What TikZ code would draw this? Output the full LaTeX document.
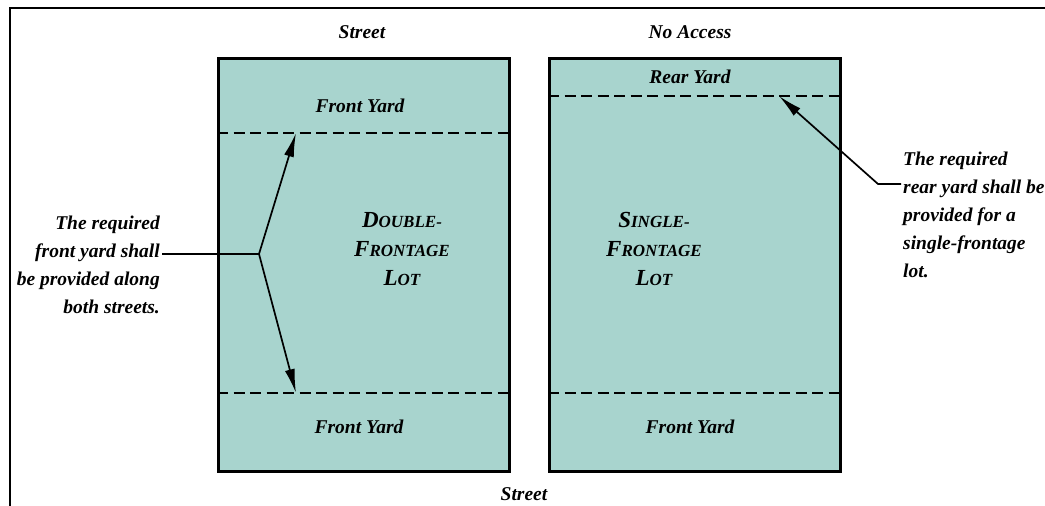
\documentclass[tikz,border=0pt]{standalone}
\usepackage{fontspec}
\setmainfont{Liberation Serif}
\usetikzlibrary{arrows.meta}
\definecolor{lotfill}{RGB}{168,212,206}
\newcommand\scword[2]{{\fontsize{23}{29}\selectfont #1}{\fontsize{17}{29}\selectfont #2}}
\begin{document}
\begin{tikzpicture}[x=1pt,y=-1pt,
  lot/.style={draw=black, line width=3.2pt, fill=lotfill, inner sep=0pt,
    minimum width=291pt, minimum height=413pt, anchor=north west},
  setback/.style={line width=2.5pt, dash pattern=on 11pt off 5.5pt},
  lbl/.style={font=\fontsize{19.5}{28}\selectfont\bfseries\itshape, inner sep=0pt},
  lotlbl/.style={font=\fontsize{23}{29}\selectfont\bfseries\itshape, inner sep=0pt, align=center, anchor=north},
  arr/.style={line width=1.7pt, -{Latex[length=24pt,width=10pt]}},
  leader/.style={line width=1.7pt}]
\useasboundingbox (0,0) rectangle (1045,506);
\fill[white] (0,0) rectangle (1045,506);
% frame
\coordinate (fbl) at (10,506);
\coordinate (ftl) at (10,8);
\coordinate (ftr) at (1045,8);
\draw[line width=2.5pt] (fbl) -- (ftl) -- (ftr);
% lots
\node[lot] (dlot) at (217,57) {};
\node[lot] (slot) at (548,57) {};
% setback lines
\coordinate (d1w) at (217,133); \coordinate (d1e) at (508,133);
\coordinate (d2w) at (217,393); \coordinate (d2e) at (508,393);
\coordinate (s1w) at (548,96);  \coordinate (s1e) at (839,96);
\coordinate (s2w) at (548,393); \coordinate (s2e) at (839,393);
\draw[setback] (d1w) -- (d1e);
\draw[setback] (d2w) -- (d2e);
\draw[setback] (s1w) -- (s1e);
\draw[setback] (s2w) -- (s2e);
% labels
\node[lbl, anchor=base] (st1) at (362,38) {Street};
\node[lbl, anchor=base] (na) at (690,38) {No Access};
\node[lbl, anchor=base] (st2) at (524,500) {Street};
\node[lbl, anchor=base] (fy1) at (360,112) {Front Yard};
\node[lbl, anchor=base] (fy2) at (359,433) {Front Yard};
\node[lbl, anchor=base] (ry) at (690,83) {Rear Yard};
\node[lbl, anchor=base] (fy3) at (690,433) {Front Yard};
\node[lotlbl] (dl) at (402,212) {\scword{D}{OUBLE-}\\\scword{F}{RONTAGE}\\\scword{L}{OT}};
\node[lotlbl] (sl) at (654,212) {\scword{S}{INGLE-}\\\scword{F}{RONTAGE}\\\scword{L}{OT}};
% notes
\node[lbl, align=right, anchor=north east] (ltext) at (160,216) {The required\\front yard shall\\be provided along\\both streets.};
\node[lbl, align=left, anchor=north west] (rtext) at (903,152) {The required\\rear yard shall be\\provided for a\\single-frontage\\lot.};
% leaders
\coordinate (lstart) at (162,254);
\coordinate (lbranch) at (259,254);
\coordinate (ltip1) at (296,133);
\coordinate (ltip2) at (296,393);
\draw[leader] (lstart) -- (lbranch);
\draw[arr] (lbranch) -- (ltip1);
\draw[arr] (lbranch) -- (ltip2);
\coordinate (rstart) at (901,184);
\coordinate (rkink) at (878,184);
\coordinate (rtip) at (779,96);
\draw[arr] (rstart) -- (rkink) -- (rtip);
\end{tikzpicture}
\end{document}
